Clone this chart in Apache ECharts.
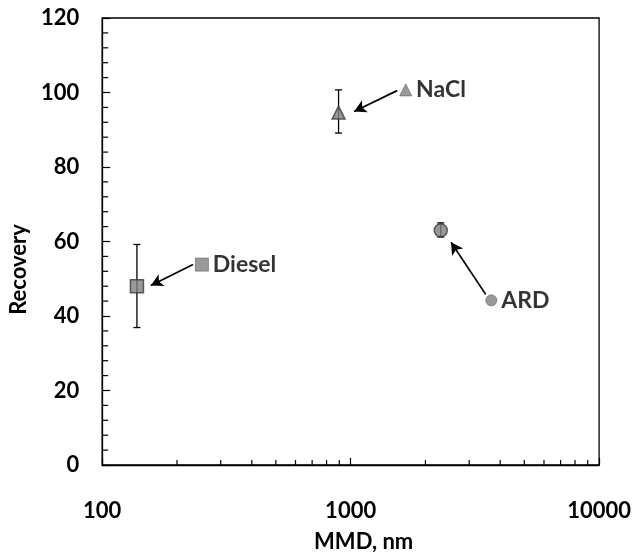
<!DOCTYPE html>
<html>
<head>
<meta charset="utf-8">
<script src="https://cdn.jsdelivr.net/npm/echarts@6/dist/echarts.min.js"></script>
<style>html,body{margin:0;padding:0;background:#fff}#c{width:634px;height:558px}</style>
</head>
<body>
<div id="c"></div>
<script>
var names = ['Diesel', 'NaCl', 'ARD'];
var mmd = [138, 894, 2305];
var recovery = [48.0, 94.6, 63.0];
var errLow = [36.9, 89.1, 61.2];
var errHigh = [59.2, 100.7, 65.0];
var labelX = [252, 1666, 3683];
var labelY = [53.8, 100.7, 44.2];
var arrowFromX = [232, 1538, 3497];
var arrowFromY = [53.8, 100.5, 45.8];
var arrowToX = [157, 1033, 2535];
var arrowToY = [48.2, 94.9, 59.8];
var xMinorTicks = [200, 300, 400, 500, 600, 700, 800, 900, 2000, 3000, 4000, 5000, 6000, 7000, 8000, 9000];
var yMinorTicks = [4, 8, 12, 16, 24, 28, 32, 36, 44, 48, 52, 56, 64, 68, 72, 76, 84, 88, 92, 96, 104, 108, 112, 116];
var symbols = ['rect', 'triangle', 'circle'];
var mainSizes = [13, 13, 13];
var labelSizes = [13, 12, 11];

var FONT = 'Lato';
var FS = 22;
var series = [];

// error bars
series.push({
  type: 'custom',
  silent: true,
  z: 2,
  data: mmd.map(function (x, i) { return [x, errLow[i], errHigh[i]]; }),
  renderItem: function (params, api) {
    var lo = api.coord([api.value(0), api.value(1)]);
    var hi = api.coord([api.value(0), api.value(2)]);
    var w = 3.5;
    var st = { stroke: '#000', lineWidth: 1.3 };
    return {
      type: 'group',
      children: [
        { type: 'line', shape: { x1: lo[0], y1: lo[1], x2: hi[0], y2: hi[1] }, style: st },
        { type: 'line', shape: { x1: lo[0] - w, y1: lo[1], x2: lo[0] + w, y2: lo[1] }, style: st },
        { type: 'line', shape: { x1: hi[0] - w, y1: hi[1], x2: hi[0] + w, y2: hi[1] }, style: st }
      ]
    };
  }
});

// x minor ticks
series.push({
  type: 'custom',
  silent: true,
  z: 1,
  data: xMinorTicks.map(function (v) { return [v, 0]; }),
  renderItem: function (params, api) {
    var p = api.coord([api.value(0), 0]);
    return { type: 'line', shape: { x1: p[0], y1: p[1], x2: p[0], y2: p[1] - 5 }, style: { stroke: '#000', lineWidth: 1.2 } };
  }
});

// y minor ticks
series.push({
  type: 'custom',
  silent: true,
  z: 1,
  data: yMinorTicks.map(function (v) { return [100, v]; }),
  renderItem: function (params, api) {
    var p = api.coord([100, api.value(1)]);
    return { type: 'line', shape: { x1: p[0], y1: p[1], x2: p[0] + 6, y2: p[1] }, style: { stroke: '#000', lineWidth: 1.2 } };
  }
});

names.forEach(function (n, i) {
  series.push({
    type: 'scatter',
    name: n,
    z: 3,
    symbol: symbols[i],
    symbolSize: mainSizes[i],
    itemStyle: { color: '#7f7f7f', borderColor: '#3a3a3a', borderWidth: 1.5 },
    data: [[mmd[i], recovery[i]]],
    markLine: {
      silent: true,
      symbol: ['none', 'arrow'],
      symbolSize: [10, 12],
      label: { show: false },
      lineStyle: { color: '#000', width: 1.7, type: 'solid' },
      data: [[{ coord: [arrowFromX[i], arrowFromY[i]] }, { coord: [arrowToX[i], arrowToY[i]] }]]
    }
  });
  series.push({
    type: 'scatter',
    name: n + ' label',
    z: 3,
    symbol: symbols[i],
    symbolSize: labelSizes[i],
    itemStyle: { color: '#808080', borderColor: '#606060', borderWidth: 0.8 },
    label: {
      show: true,
      position: 'right',
      distance: 4,
      formatter: n,
      fontFamily: FONT,
      fontWeight: 'bold',
      fontSize: FS + 1,
      color: '#000'
    },
    data: [[labelX[i], labelY[i]]]
  });
});

var chart = echarts.init(document.getElementById('c'), null, { renderer: 'canvas' });
chart.setOption({
  animation: false,
  backgroundColor: '#fff',
  grid: { left: 101, right: 32, top: 18, bottom: 92, show: true, borderColor: '#000', borderWidth: 1.3, backgroundColor: 'transparent' },
  xAxis: {
    type: 'log',
    logBase: 10,
    min: 100,
    max: 10000,
    name: 'MMD, nm',
    nameLocation: 'middle',
    nameGap: 66,
    nameTextStyle: { fontFamily: FONT, fontWeight: 'bold', fontSize: FS, color: '#000', padding: [0, 0, 0, 26] },
    axisLine: { show: true, lineStyle: { color: '#000', width: 1.3 } },
    axisTick: { show: true, inside: true, length: 7, lineStyle: { color: '#000', width: 1.2 } },
    splitLine: { show: false },
    axisLabel: { margin: 35, fontFamily: FONT, fontWeight: 'bold', fontSize: FS, color: '#000',
      formatter: function (v) { return String(Math.round(v)); } }
  },
  yAxis: {
    type: 'value',
    min: 0,
    max: 120,
    interval: 20,
    name: 'Recovery',
    nameLocation: 'middle',
    nameGap: 54,
    nameTextStyle: { fontFamily: FONT, fontWeight: 'bold', fontSize: FS, color: '#000', padding: [0, 56, 0, 0] },
    axisLine: { show: true, lineStyle: { color: '#000', width: 1.3 } },
    axisTick: { show: true, inside: true, length: 8, lineStyle: { color: '#000', width: 1.2 } },
    splitLine: { show: false },
    axisLabel: { margin: 23, fontFamily: FONT, fontWeight: 'bold', fontSize: FS, color: '#000' }
  },
  series: series
});
</script>
</body>
</html>
